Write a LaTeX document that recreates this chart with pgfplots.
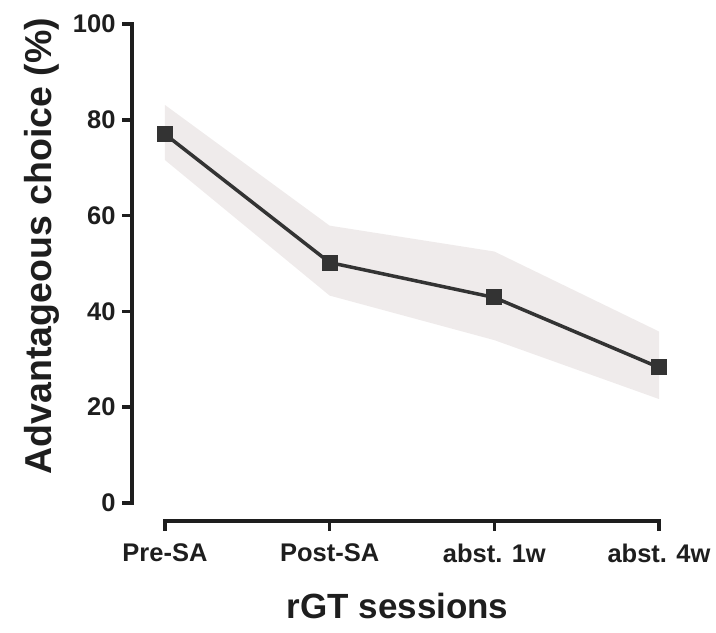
\documentclass[border=0pt]{standalone}
\usepackage{pgfplots}
\pgfplotsset{compat=1.18}
\usepackage{fontspec}
\setmainfont{Liberation Sans}
\definecolor{band}{HTML}{EFEBEB}
\definecolor{ink}{HTML}{333333}
\definecolor{spine}{HTML}{1E1E1E}
\begin{document}
\begin{tikzpicture}
\begin{axis}[
  scale only axis, width=527pt, height=497pt,
  xmin=-0.2, xmax=3, ymin=-3.76, ymax=100,
  clip=false,
  axis x line*=bottom, axis y line*=left,
  axis line style={draw=none},
  xtick={0,1,2,3},
  xticklabels={Pre-SA,Post-SA,abst. 1w,abst. 4w},
  ytick={0,20,40,60,80,100},
  tick align=outside, major tick length=10pt,
  every tick/.style={draw=none},
  /pgf/number format/assume math mode=true,
  tick label style={font=\fontsize{25.5}{29}\selectfont\bfseries, text=spine},
  xticklabel style={yshift=-9pt},
  yticklabel style={xshift=-3pt},
  xlabel={rGT sessions},
  ylabel={Advantageous choice (\%)},
  label style={font=\bfseries, text=spine},
  xlabel style={font=\fontsize{35}{40}\selectfont\bfseries, at={(axis description cs:0.504,-0.197)}, anchor=base},
  ylabel style={font=\fontsize{37.5}{42}\selectfont\bfseries, at={(axis description cs:-0.152,0.553)}, anchor=base, rotate=0},
]
% spread of the session means
\addplot[fill=band, draw=none] coordinates {
  (0,83.1) (1,57.9) (2,52.5) (3,35.8)
  (3,21.7) (2,34.0) (1,43.3) (0,71.6)
} -- cycle;
% session means
\addplot[ink, line width=3.5pt, mark=square*, mark size=7.5pt,
  mark options={fill=ink, draw=ink, line width=0pt}] coordinates {
  (0,77.0) (1,50.2) (2,42.9) (3,28.3)
};
% detached spines with their ticks
\draw[spine, line width=3.5pt, line cap=rect] (axis cs:-0.2,0) -- (axis cs:-0.2,100);
\draw[spine, line width=3.5pt, line cap=rect] (axis cs:0,-3.76) -- (axis cs:3,-3.76);
\pgfplotsinvokeforeach{0,20,40,60,80,100}{
  \draw[spine, line width=3.5pt] (axis cs:-0.2,#1) -- ([xshift=-10pt]axis cs:-0.2,#1);
}
\pgfplotsinvokeforeach{0,1,2,3}{
  \draw[spine, line width=3.5pt] (axis cs:#1,-3.76) -- ([yshift=-10pt]axis cs:#1,-3.76);
}
\end{axis}
\pgfresetboundingbox
\path[use as bounding box]
  ([xshift=-132pt,yshift=-112pt]current axis.south west)
  rectangle ([xshift=57pt,yshift=24pt]current axis.north east);
\end{tikzpicture}
\end{document}
